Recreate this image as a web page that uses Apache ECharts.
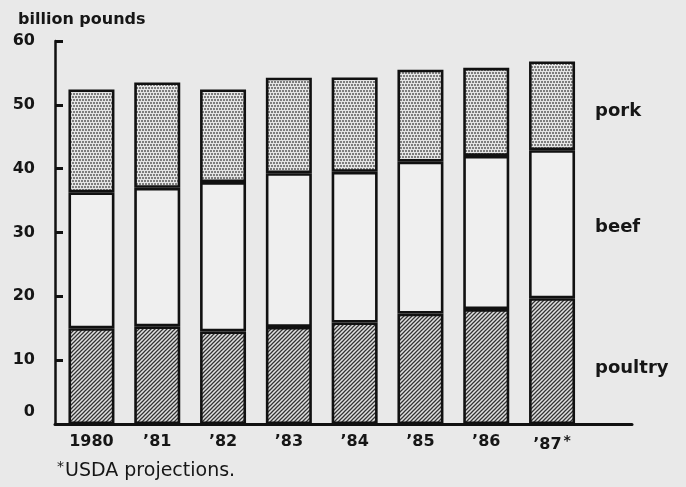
<!DOCTYPE html>
<html>
<head>
<meta charset="utf-8">
<script src="https://cdn.jsdelivr.net/npm/echarts@6/dist/echarts.min.js"></script>
<style>
html,body{margin:0;padding:0;background:#e9e9e9;}
#c{width:686px;height:487px;}
</style>
</head>
<body>
<div id="c"></div>
<script>
// ---- data (billion pounds) ----
const categories = ['1980', '\u201981', '\u201982', '\u201983', '\u201984', '\u201985', '\u201986', '\u201987*'];
const poultry = [15.0, 15.3, 14.5, 15.2, 15.9, 17.3, 18.0, 19.7];
const beef    = [21.3, 21.7, 23.4, 24.1, 23.6, 23.8, 24.0, 23.2];
const pork    = [16.1, 16.5, 14.5, 14.95, 14.8, 14.4, 13.8, 13.9];
const yTicks  = [0, 10, 20, 30, 40, 50, 60];
const seriesNames = ['poultry', 'beef', 'pork'];

// ---- patterns ----
function dotPattern() {
  const c = document.createElement('canvas');
  c.width = 6; c.height = 6;
  const g = c.getContext('2d');
  g.fillStyle = '#e4e4e4'; g.fillRect(0, 0, 6, 6);
  g.fillStyle = '#7e7e7e';
  [[0, 0], [3, 0], [1.5, 3], [4.5, 3]].forEach(([x, y]) => g.fillRect(Math.floor(x), y, 2, 2));
  return c;
}
function hatchPattern() {
  const c = document.createElement('canvas');
  c.width = 4; c.height = 4;
  const g = c.getContext('2d');
  g.fillStyle = '#e0e0e0'; g.fillRect(0, 0, 4, 4);
  g.strokeStyle = '#333'; g.lineWidth = 1.25;
  g.beginPath();
  g.moveTo(-1, 5); g.lineTo(5, -1);
  g.moveTo(-1, 1); g.lineTo(1, -1);
  g.moveTo(3, 5); g.lineTo(5, 3);
  g.stroke();
  return c;
}

const fills = {
  poultry: { image: hatchPattern(), repeat: 'repeat' },
  beef: '#efefef',
  pork: { image: dotPattern(), repeat: 'repeat' }
};
const labelOffsets = { poultry: [0, 7], beef: [0, 3], pork: [0, 6] };
const values = { poultry, beef, pork };

const textColor = '#161616';
const font = 'DejaVu Sans';

const series = seriesNames.map(name => ({
  name,
  type: 'bar',
  stack: 'total',
  barWidth: 46,
  encode: { x: 1, y: 0 },
  itemStyle: { color: fills[name], borderColor: '#111', borderWidth: 2.6 },
  data: values[name].map((v, i) => {
    const item = { value: [v, i] };
    if (i === values[name].length - 1) {
      item.label = {
        show: true, position: 'right', distance: 20, offset: labelOffsets[name],
        formatter: name, fontFamily: font, fontWeight: 'bold', fontSize: 18, color: textColor
      };
    }
    return item;
  })
}));

const chart = echarts.init(document.getElementById('c'), null, { renderer: 'canvas' });
chart.setOption({
  backgroundColor: '#e9e9e9',
  animation: false,
  textStyle: { fontFamily: font },
  title: [
    { text: 'billion pounds', left: 13, top: 7,
      textStyle: { fontFamily: font, fontWeight: 'bold', fontSize: 16, color: textColor } },
    { text: '{s|*}{t|USDA projections.}', left: 52, top: 455,
      textStyle: { fontWeight: 'normal', rich: {
        s: { fontFamily: font, fontWeight: 'normal', fontSize: 14, color: textColor, padding: [0, 1, 8, 0] },
        t: { fontFamily: font, fontWeight: 'normal', fontSize: 19, color: textColor }
      } } }
  ],
  grid: { left: 55, right: 54, top: 41, bottom: 63 },
  xAxis: {
    type: 'value', min: -0.554, max: 8.215,
    axisLine: { show: true, onZero: false, lineStyle: { color: '#111', width: 3 } },
    axisTick: { show: false },
    splitLine: { show: false },
    axisLabel: {
      customValues: categories.map((c, i) => i),
      margin: 10, fontFamily: font, fontWeight: 'bold', fontSize: 16, color: textColor,
      formatter: v => {
        const s = categories[Math.round(v)];
        if (s === undefined) return '';
        return s.endsWith('*') ? s.slice(0, -1) + '{a|*}' : s;
      },
      rich: { a: { fontFamily: font, fontSize: 14, color: textColor, padding: [0, 0, 8, 2] } }
    }
  },
  yAxis: {
    type: 'value', min: 0, max: 60, interval: 10,
    axisLine: { show: true, onZero: false, lineStyle: { color: '#111', width: 2.5 } },
    axisTick: { show: true, inside: true, length: 8, lineStyle: { color: '#111', width: 3 } },
    splitLine: { show: false },
    axisLabel: {
      margin: 20, fontFamily: font, fontWeight: 'bold', fontSize: 16, color: textColor,
      formatter: v => yTicks.includes(v) ? (v === 0 ? '{z|0}' : String(v)) : '',
      rich: { z: { fontFamily: font, fontWeight: 'bold', fontSize: 16, color: textColor, padding: [0, 0, 24, 0] } }
    }
  },
  series
});
</script>
</body>
</html>
